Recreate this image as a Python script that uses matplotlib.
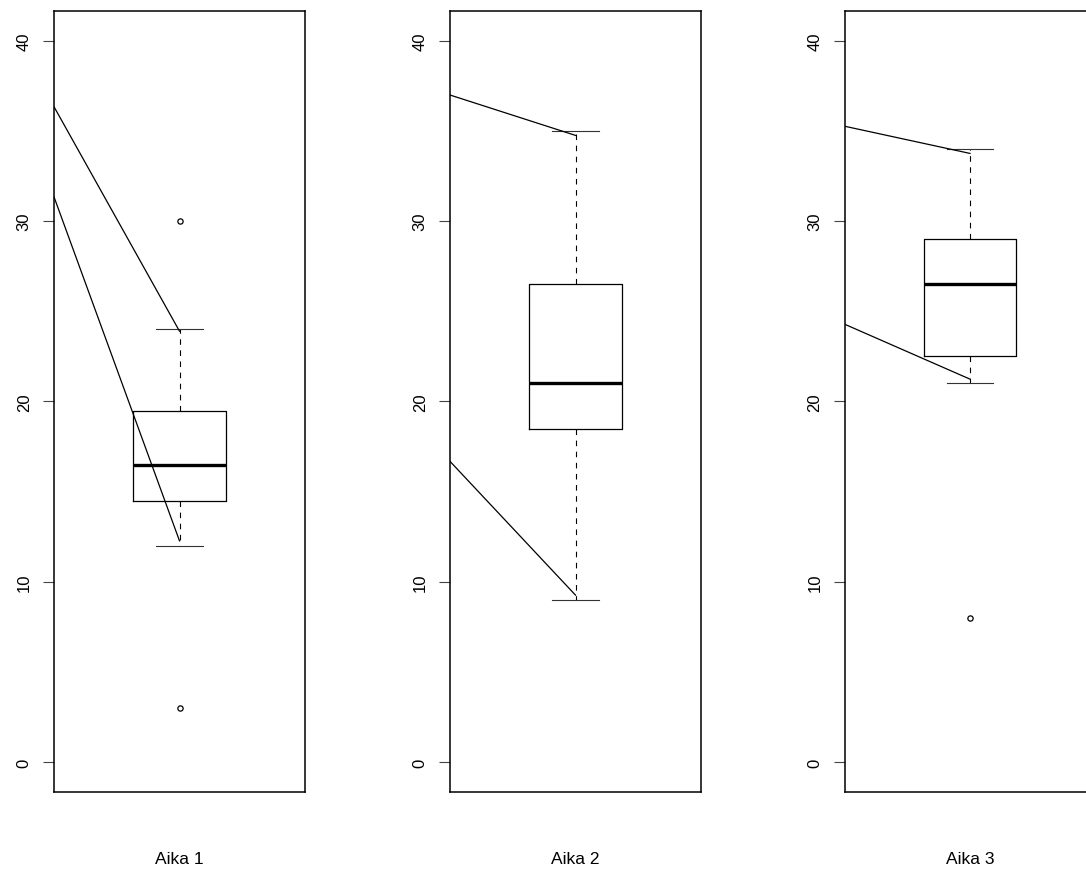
import matplotlib
matplotlib.use("Agg")
import matplotlib.pyplot as plt

plt.rcParams['font.family'] = ['Liberation Sans', 'DejaVu Sans']

# Data
panel_labels = ["Aika 1", "Aika 2", "Aika 3"]
q1 = [14.5, 18.5, 22.5]
median = [16.5, 21.0, 26.5]
q3 = [19.5, 26.5, 29.0]
whisker_low = [12.0, 9.0, 21.0]
whisker_high = [24.0, 35.0, 34.0]
outliers = [[30.0, 3.0], [], [8.0]]

# annotation lines: y where they enter the plot at the left edge, and y where they end at the box centre
upper_line_start = [36.35, 37.0, 35.27]
upper_line_end = [23.9, 34.76, 33.76]
lower_line_start = [31.35, 16.68, 24.29]
lower_line_end = [12.27, 9.26, 21.24]

y_ticks = [0, 10, 20, 30, 40]

W, H = 1086, 870
fig = plt.figure(figsize=(W / 100, H / 100), dpi=100)

lefts_px = [54, 450, 844.5]
ax_w_px = 251
bottom_px, top_px = 793, 12

for i in range(3):
    ax = fig.add_axes([lefts_px[i] / W, (H - bottom_px) / H,
                       ax_w_px / W, (bottom_px - top_px) / H])
    stats = [dict(med=median[i], q1=q1[i], q3=q3[i],
                  whislo=whisker_low[i], whishi=whisker_high[i],
                  fliers=outliers[i])]
    ax.bxp(stats, positions=[1], widths=0.4, showfliers=True,
           boxprops=dict(color='black', linewidth=0.9),
           medianprops=dict(color='black', linewidth=2.4, solid_capstyle='butt'),
           whiskerprops=dict(color='black', linewidth=0.8, linestyle=(0, (5, 5))),
           capprops=dict(color='#333333', linewidth=0.8),
           capwidths=0.2,
           flierprops=dict(marker='o', markersize=3.8, markerfacecolor='none',
                           markeredgecolor='black', markeredgewidth=0.9))
    x0 = 0.46
    ax.plot([x0, 1.0], [upper_line_start[i], upper_line_end[i]], color='black', lw=0.9)
    ax.plot([x0, 1.0], [lower_line_start[i], lower_line_end[i]], color='black', lw=0.9)

    ax.set_xlim(0.46, 1.54)
    ax.set_ylim(-1.66, 41.66)
    ax.set_xticks([])
    ax.set_yticks(y_ticks)
    ax.set_yticklabels([str(t) for t in y_ticks], rotation=90, va='center', fontsize=12)
    ax.tick_params(axis='y', length=8, width=0.8, color='#444444', pad=8)
    for s in ax.spines.values():
        s.set_linewidth(1.1)
        s.set_color('black')
    fig.text((lefts_px[i] + ax_w_px / 2) / W, (H - 860) / H, panel_labels[i],
             ha='center', va='center', fontsize=12.5)

fig.savefig("out.png", dpi=100)
